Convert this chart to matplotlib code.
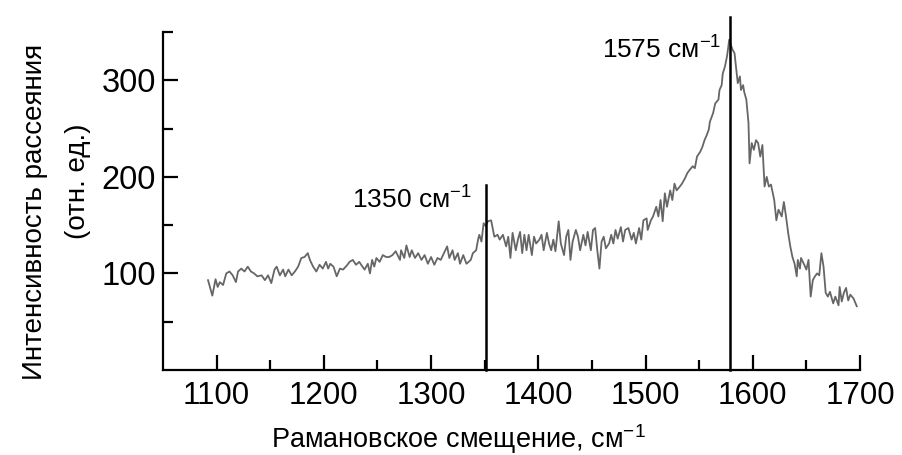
import matplotlib
matplotlib.use("Agg")
import matplotlib.pyplot as plt
from matplotlib.ticker import FixedLocator

plt.rcParams['font.family'] = ['Liberation Sans', 'DejaVu Sans']
plt.rcParams['mathtext.fontset'] = 'custom'
plt.rcParams['mathtext.rm'] = 'Liberation Sans'
plt.rcParams['mathtext.default'] = 'regular'

# Raman shift (cm^-1) and intensity (arb. units)
shift = [
    1092, 1096, 1099, 1101, 1103, 1106, 1109, 1112, 1115, 1118, 1120, 1123, 1126, 1129,
    1132, 1135, 1138, 1142, 1145, 1148, 1151, 1154, 1156, 1159, 1162, 1164, 1167, 1170,
    1173, 1176, 1179, 1182, 1185, 1187, 1190, 1193, 1196, 1199, 1202, 1204, 1206, 1209,
    1212, 1215, 1218, 1222,
    1224, 1227, 1230, 1233, 1236, 1238, 1241, 1243, 1245, 1247, 1249, 1252, 1255, 1258,
    1261, 1264, 1267, 1271, 1272, 1275, 1277, 1280, 1282, 1285, 1288, 1291, 1294, 1297,
    1300, 1303, 1306, 1309, 1312, 1315, 1317, 1320, 1322, 1325, 1327, 1330, 1333, 1337,
    1339, 1342, 1344, 1345, 1347, 1349, 1351,
    1353, 1356, 1359, 1362, 1364, 1367, 1370, 1372, 1374, 1376, 1379, 1381, 1383, 1385,
    1387, 1389, 1391, 1394, 1396, 1398, 1401, 1403, 1405, 1408, 1410, 1412, 1414, 1416,
    1419, 1421, 1424, 1426, 1428, 1430, 1432, 1435, 1437, 1439, 1442, 1444, 1446, 1449,
    1451, 1453, 1455, 1457, 1459, 1461, 1463, 1466, 1468, 1470, 1472, 1474, 1477, 1479,
    1481, 1484,
    1487, 1489, 1491, 1494, 1496, 1498, 1501, 1502, 1505, 1507, 1510, 1512, 1514, 1516,
    1518, 1520, 1523, 1525, 1527, 1529, 1532, 1534, 1537, 1539, 1541, 1544, 1546, 1548,
    1551, 1553, 1555, 1557, 1559, 1560, 1563, 1565, 1568, 1569, 1571, 1572, 1574, 1576,
    1577, 1578,
    1581, 1583, 1585, 1586, 1588, 1589, 1591, 1592, 1594, 1596, 1597, 1599, 1601, 1603,
    1605, 1607, 1609, 1611, 1613, 1615, 1617, 1620, 1622, 1624, 1627, 1629, 1631, 1633,
    1635, 1637, 1639, 1641, 1642, 1644, 1645, 1648, 1650, 1652, 1654, 1656, 1658, 1660,
    1662, 1664, 1666, 1668, 1670, 1672, 1675, 1677, 1680, 1681, 1683, 1685, 1687, 1689,
    1691, 1694, 1697,
]
intensity = [
    93, 77, 94, 86, 91, 88, 100, 102, 98, 91, 102, 105, 102, 107,
    102, 100, 97, 98, 93, 98, 90, 104, 107, 98, 104, 97, 104, 98,
    102, 107, 116, 117, 121, 114, 107, 102, 109, 105, 112, 105, 110, 107,
    97, 105, 104, 109,
    112, 114, 109, 112, 107, 104, 110, 100, 114, 107, 116, 112, 119, 117,
    117, 119, 123, 114, 124, 116, 129, 117, 124, 116, 121, 114, 119, 110,
    117, 109, 116, 114, 121, 128, 116, 124, 114, 121, 110, 119, 110, 114,
    121, 124, 136, 140, 133, 152, 149,
    154, 155, 138, 140, 135, 140, 128, 138, 116, 142, 124, 135, 143, 121,
    140, 124, 140, 119, 138, 131, 135, 140, 124, 142, 131, 124, 135, 123,
    154, 131, 119, 138, 145, 114, 133, 145, 138, 124, 140, 129, 143, 124,
    145, 147, 124, 105, 133, 138, 126, 131, 140, 131, 145, 136, 148, 133,
    145, 147,
    135, 142, 131, 147, 135, 155, 157, 145, 155, 159, 169, 159, 176, 154,
    183, 169, 186, 176, 193, 186, 190, 193, 199, 204, 207, 211, 209, 221,
    226, 231, 238, 243, 249, 257, 266, 276, 280, 290, 295, 307, 314, 325,
    333, 342,
    332, 328, 307, 297, 304, 290, 295, 288, 280, 256, 214, 235, 228, 238,
    235, 221, 233, 190, 200, 190, 192, 176, 155, 166, 159, 174, 159, 142,
    128, 117, 110, 97, 114, 105, 116, 109, 104, 114, 76, 93, 97, 100,
    98, 121, 107, 80, 76, 81, 69, 76, 67, 86, 71, 80, 85, 72,
    78, 74, 66,
]

# Marked peaks: label text, line position, line top, label anchor
peak_labels = ["1350 см$^{-1}$", "1575 см$^{-1}$"]
peak_pos = [1351, 1579]
peak_top = [192, 366]
label_x = [1226, 1459]
label_y = [167, 322]

x_ticks = [1100, 1200, 1300, 1400, 1500, 1600, 1700]
y_ticks = [100, 200, 300]

fig = plt.figure(figsize=(9.02, 4.55), dpi=100)
ax = fig.add_axes([163 / 902, 85 / 455, 697 / 902, 338 / 455])

ax.plot(shift, intensity, color='#666666', lw=1.3, zorder=2)
for p, t in zip(peak_pos, peak_top):
    ax.plot([p, p], [0, t], color='black', lw=1.8, clip_on=False, zorder=3)

for lab, lx, ly in zip(peak_labels, label_x, label_y):
    ax.text(lx, ly, lab, fontsize=19, ha='left', va='baseline', clip_on=False)

ax.set_xlim(1050, 1700)
ax.set_ylim(0, 350)
ax.xaxis.set_major_locator(FixedLocator(x_ticks))
ax.xaxis.set_minor_locator(FixedLocator([1150, 1250, 1350, 1450, 1550, 1650]))
ax.yaxis.set_major_locator(FixedLocator(y_ticks))
ax.yaxis.set_minor_locator(FixedLocator([50, 150, 250, 350]))

for s in ['top', 'right']:
    ax.spines[s].set_visible(False)
for s in ['left', 'bottom']:
    ax.spines[s].set_linewidth(1.6)

ax.tick_params(axis='both', which='major', direction='in', length=11, width=1.6)
ax.tick_params(axis='both', which='minor', direction='in', length=7, width=1.6)
ax.tick_params(axis='x', which='major', labelsize=22.5, pad=8)
ax.tick_params(axis='y', which='major', labelsize=23.5, pad=5)

fig.text(271 / 902, 1 - 448 / 455, "Рамановское смещение, см$^{-1}$",
         fontsize=19.5, ha='left', va='baseline')
fig.text(35 / 902, 1 - 212 / 455, "Интенсивность рассеяния", fontsize=20,
         rotation=90, ha='center', va='center')
fig.text(78 / 902, 1 - 181 / 455, "(отн. ед.)", fontsize=20,
         rotation=90, ha='center', va='center')

fig.savefig("out.png", dpi=100)
